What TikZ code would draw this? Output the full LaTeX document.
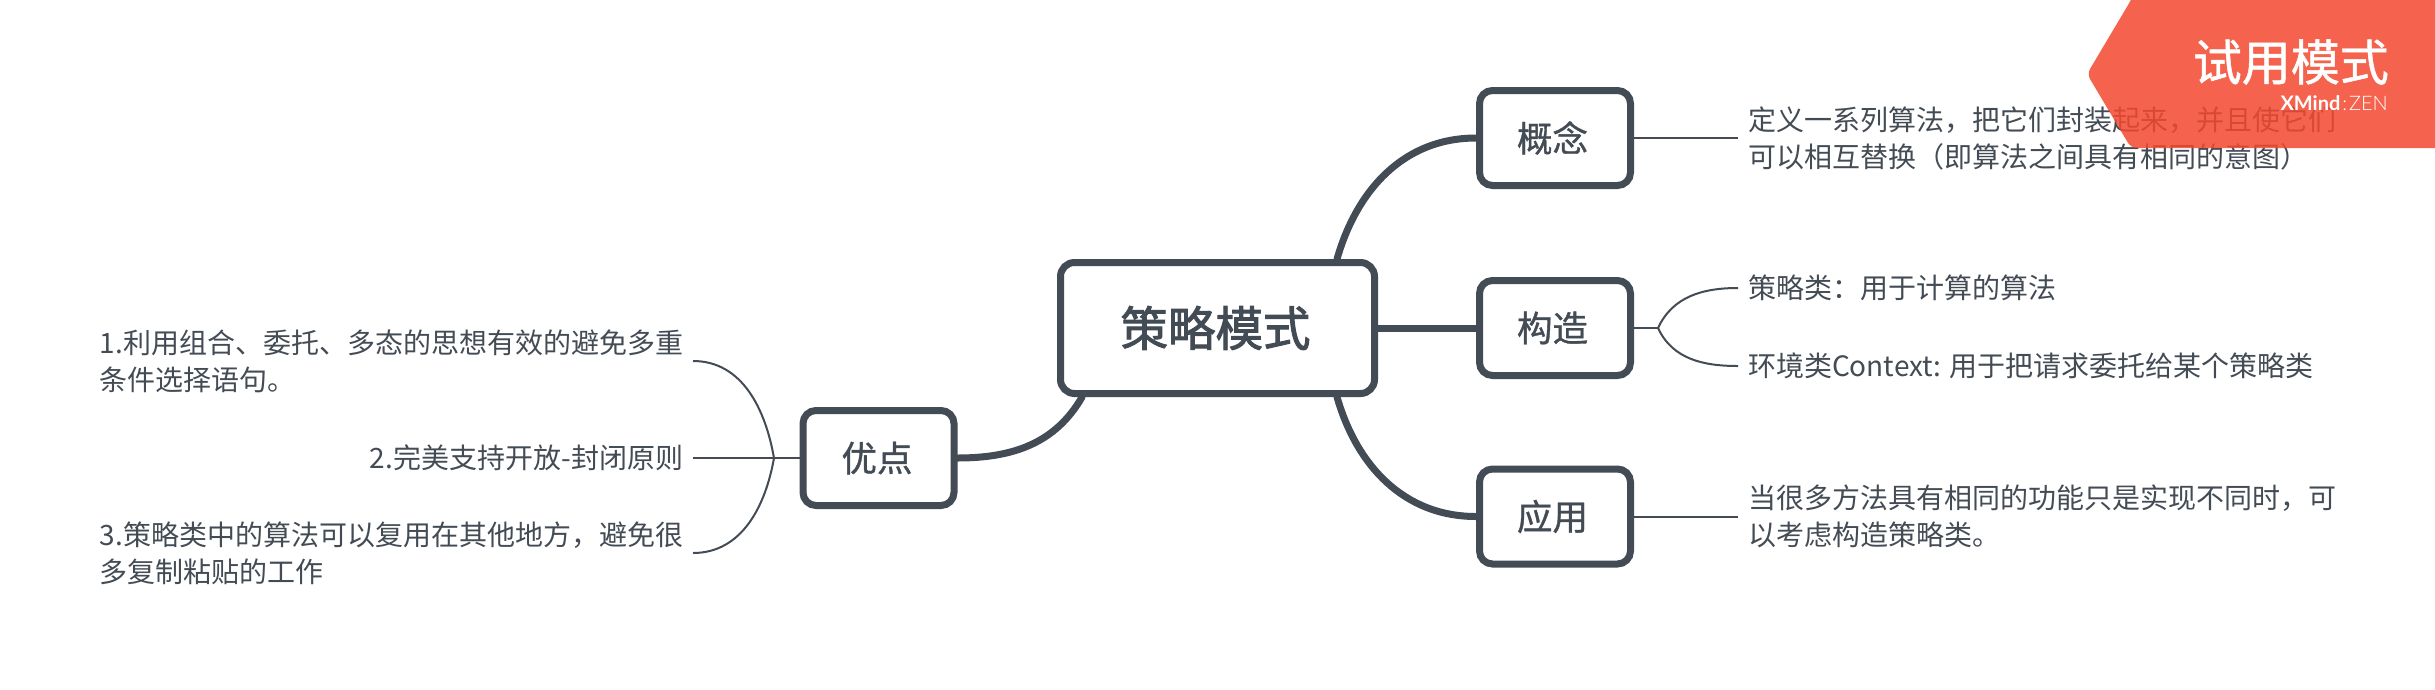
\documentclass[tikz,border=0pt]{standalone}
\usepackage{fontspec}
\setmainfont{Noto Sans CJK SC}
\newfontfamily\medfont[FakeBold=1]{Noto Sans CJK SC}
\newfontfamily\rootfont[FakeBold=2]{Noto Sans CJK SC}
\newfontfamily\wmfont[BoldFont=Lato Bold]{Lato Light}
\definecolor{inkgrey}{HTML}{434B54}
\definecolor{bannerred}{HTML}{F3482F}
\tikzset{
	rootbox/.style={draw=inkgrey, line width=7pt, rounded corners=14pt, fill=white, text=inkgrey, minimum width=314pt, minimum height=131pt, inner sep=0pt, font=\fontsize{47.5}{56}\selectfont\rootfont},
	topicbox/.style={draw=inkgrey, line width=7pt, rounded corners=13pt, fill=white, text=inkgrey, minimum width=151pt, minimum height=95pt, inner sep=0pt, font=\fontsize{35.5}{42}\selectfont\medfont},
	leaf/.style={text=inkgrey, align=left, inner xsep=10pt, inner ysep=0pt, outer sep=0pt, font=\fontsize{28}{37}\selectfont},
	thickline/.style={draw=inkgrey, line width=7pt, line cap=round},
	thinline/.style={draw=inkgrey, line width=2pt}
}
\begin{document}
\begin{tikzpicture}[x=1pt,y=-1pt]
	\useasboundingbox (0,0) rectangle (2435,689);
	\node[rootbox] (cl) at (1217.5,328) {\raisebox{2pt}{策略模式}\kern4pt};
	\node[topicbox] (gn) at (1555,138) {概念\kern5pt};
	\node[topicbox] (gz) at (1555,328) {构造\kern5pt};
	\node[topicbox] (yy) at (1555,516.5) {应用\kern5pt};
	\node[topicbox] (yd) at (878.5,458) {优点\kern3pt};

	\node[leaf, anchor=west] (gn-a) at (1738,138) {定义一系列算法，把它们封装起来，并且使它们\\可以相互替换（即算法之间具有相同的意图）};
	\node[leaf, anchor=west] (gz-a) at (1738,288) {策略类：用于计算的算法};
	\node[leaf, anchor=west] (gz-b) at (1738,366) {环境类Context: 用于把请求委托给某个策略类};
	\node[leaf, anchor=west] (yy-a) at (1738,516.5) {当很多方法具有相同的功能只是实现不同时，可\\以考虑构造策略类。};
	\node[leaf, anchor=east] (yd-a) at (693,361) {1.利用组合、委托、多态的思想有效的避免多重\\条件选择语句。};
	\node[leaf, anchor=east] (yd-b) at (693,458) {2.完美支持开放-封闭原则};
	\node[leaf, anchor=east] (yd-c) at (693,553) {3.策略类中的算法可以复用在其他地方，避免很\\多复制粘贴的工作};

	\coordinate (gz-j) at (1658,328);
	\coordinate (yd-j) at (774,458);

	\path[thickline]
	(cl.30) edge[out=74,in=180] (gn.west)
	(cl.east) edge (gz.west)
	(cl.-30) edge[out=-74,in=180] (yy.west)
	(cl.-153.3) edge[out=240,in=0] (yd.east)
	;
	\path[thinline]
	(gn.east) edge (gn-a.west)
	(gz.east) edge (gz-j)
	(gz-j) edge[out=65,in=180] (gz-a.west)
	(gz-j) edge[out=-65,in=180] (gz-b.west)
	(yy.east) edge (yy-a.west)
	(yd.west) edge (yd-b.east)
	(yd-j) edge[out=100,in=0] (yd-a.east)
	(yd-j) edge[out=-100,in=0] (yd-c.east)
	;

	\path[fill=bannerred, fill opacity=0.85, rounded corners=6pt]
	(2131,0) -- (2087,74) -- (2131,148) -- (2442,148) -- (2442,-8) -- (2135,-8) -- cycle;
	\node[anchor=east, text=white, inner sep=0pt, font=\fontsize{49}{56}\selectfont\medfont] (wm-a) at (2389,62) {试用模式};
	\node[anchor=east, text=white, inner sep=0pt, font=\fontsize{20}{24}\selectfont\wmfont] (wm-b) at (2388,103) {\textbf{XMind}\kern2pt:\kern2pt ZEN};
\end{tikzpicture}
\end{document}
